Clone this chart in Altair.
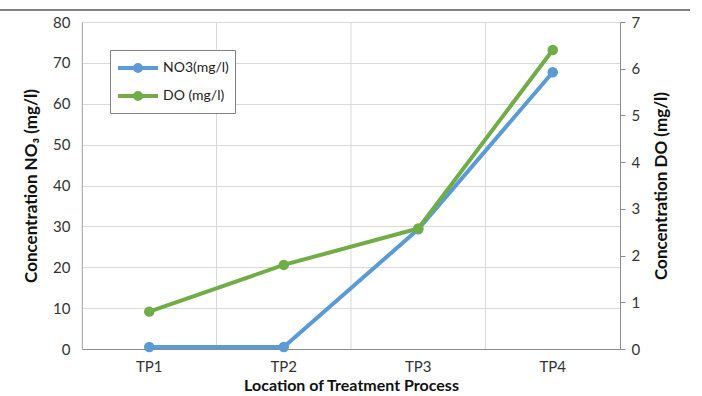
import altair as alt
import pandas as pd

locations = ["TP1", "TP2", "TP3", "TP4"]
no3_values = [0.5, 0.5, 29.3, 67.7]
do_values = [0.8, 1.8, 2.58, 6.4]
series_names = ["NO3(mg/l)", "DO (mg/l)"]
colors = ["#5B9BD5", "#70AD47"]

df = pd.DataFrame({
    "location": locations * 2,
    "series": [series_names[0]] * 4 + [series_names[1]] * 4,
    "value": no3_values + do_values,
})

FONT = "Lato"
SYMBOL = "M-1,0L3,0M0.7,0a0.3,0.3 0 1,0 0.6,0a0.3,0.3 0 1,0 -0.6,0"
x_scale = alt.Scale(type="band", domain=locations, paddingInner=0, paddingOuter=0)
color = alt.Color("series:N", scale=alt.Scale(domain=series_names, range=colors),
                  legend=alt.Legend(title=None, orient="none", legendX=28, legendY=28,
                                    strokeColor="#7f7f7f", fillColor="white", padding=6,
                                    labelFont=FONT, labelFontSize=14, labelColor="#222",
                                    labelOffset=23,
                                    symbolType=SYMBOL, symbolStrokeWidth=4, symbolSize=400,
                                    rowPadding=5))

x_axis = alt.Axis(title="Location of Treatment Process", labelAngle=0, ticks=False,
                  grid=False, domainColor="#8c8c8c", labelFont=FONT, labelFontSize=15,
                  labelColor="#333", labelPadding=10, titleFont=FONT, titleFontSize=16,
                  titleFontWeight="bold", titleColor="#111", titlePadding=3)
x_enc = alt.X("location:N", scale=x_scale, axis=x_axis)

grid = alt.Chart(pd.DataFrame({"location": locations})).mark_rule(color="#d9d9d9", strokeWidth=1).encode(
    x=alt.X("location:N", scale=x_scale, bandPosition=0, axis=x_axis)
)

base_no3 = alt.Chart(df).transform_filter(alt.datum.series == series_names[0])
y_left = alt.Y("value:Q", scale=alt.Scale(domain=[0, 80]),
               axis=alt.Axis(title="Concentration NO₃ (mg/l)", values=list(range(0, 81, 10)),
                             grid=True, gridColor="#d9d9d9", ticks=False, domain=True,
                             domainColor="#8c8c8c", labelFont=FONT, labelFontSize=15,
                             labelColor="#333", labelPadding=12, titleFont=FONT, titleFontSize=17,
                             titleFontWeight="bold", titleColor="#111", titlePadding=12))
no3_line = base_no3.mark_line(strokeWidth=4).encode(x=x_enc, y=y_left, color=color)
no3_pts = base_no3.mark_circle(size=110, opacity=1).encode(x=x_enc, y=y_left, color=color)
left = alt.layer(grid, no3_line, no3_pts)

base_do = alt.Chart(df).transform_filter(alt.datum.series == series_names[1])
y_right = alt.Y("value:Q", scale=alt.Scale(domain=[0, 7]),
                axis=alt.Axis(title="Concentration DO (mg/l)", orient="right",
                              values=list(range(0, 8)), grid=False, ticks=True, tickSize=5,
                              tickColor="#8c8c8c", domainColor="#8c8c8c", labelFont=FONT,
                              labelFontSize=15, labelColor="#333", labelPadding=6,
                              titleFont=FONT, titleFontSize=17, titleFontWeight="bold",
                              titleColor="#111", titleAngle=270, titleBaseline="top",
                              titlePadding=14))
do_line = base_do.mark_line(strokeWidth=4).encode(x=x_enc, y=y_right, color=color)
do_pts = base_do.mark_circle(size=110, opacity=1).encode(x=x_enc, y=y_right, color=color)
right = alt.layer(do_line, do_pts)

topline = alt.Chart(pd.DataFrame({"a": [0]})).mark_rule(color="#000", strokeWidth=1).encode(
    x=alt.value(-82), x2=alt.value(608), y=alt.value(-12)
)

chart = alt.layer(left, right, topline).resolve_scale(y="independent").properties(
    width=538, height=327, autosize="none",
    padding={"left": 82, "top": 22, "right": 82, "bottom": 47},
).configure_view(stroke=None)

chart.save("out.html", embed_options={"renderer": "svg", "actions": False})
